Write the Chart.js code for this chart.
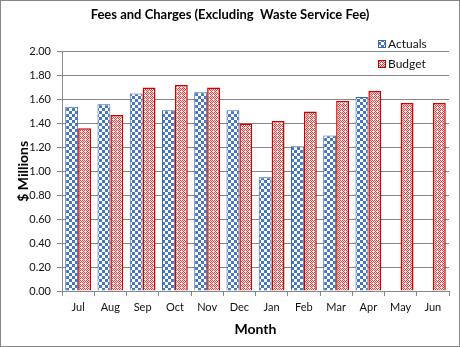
<!DOCTYPE html>
<html>
<head>
<meta charset="utf-8">
<script src="https://cdn.jsdelivr.net/npm/chart.js@4"></script>
<style>
  html, body { margin: 0; padding: 0; background: #fff; }
  #wrap { width: 460px; height: 347px; }
</style>
</head>
<body>
<div id="wrap"><canvas id="feesChart" width="460" height="347"></canvas></div>
<script>
const months = ["Jul", "Aug", "Sep", "Oct", "Nov", "Dec", "Jan", "Feb", "Mar", "Apr", "May", "Jun"];
const actuals = [1.54, 1.56, 1.65, 1.51, 1.66, 1.51, 0.95, 1.21, 1.30, 1.62, null, null];
const budget = [1.36, 1.47, 1.70, 1.72, 1.70, 1.40, 1.42, 1.50, 1.59, 1.67, 1.57, 1.57];
const seriesNames = ["Actuals", "Budget"];

const font = "Lato, 'Liberation Sans', sans-serif";

function checkPattern() {
    const c = document.createElement("canvas");
    c.width = 6; c.height = 6;
    const g = c.getContext("2d");
    g.fillStyle = "#ffffff";
    g.fillRect(0, 0, 6, 6);
    g.fillStyle = "#4677c4";
    g.fillRect(0, 0, 3, 3);
    g.fillRect(3, 3, 3, 3);
    return g.createPattern(c, "repeat");
}

function redPattern() {
    const c = document.createElement("canvas");
    c.width = 4; c.height = 4;
    const g = c.getContext("2d");
    g.fillStyle = "#fbe4e4";
    g.fillRect(0, 0, 4, 4);
    g.fillStyle = "#e04848";
    const px = [[0, 0], [1, 1], [2, 2], [3, 3], [2, 0], [0, 2], [3, 1]];
    px.forEach(p => g.fillRect(p[0], p[1], 1, 1));
    return g.createPattern(c, "repeat");
}

const blueFill = checkPattern();
const redFill = redPattern();

// legend drawn over the top right of the plot, like the original
const legendBox = {
    id: "legendBox",
    afterDraw(chart) {
        const ctx = chart.ctx;
        ctx.save();
        ctx.font = "12px " + font;
        ctx.textBaseline = "middle";
        chart.data.datasets.forEach((ds, i) => {
            const y = 44 + i * 20;
            ctx.fillStyle = "#fff";
            ctx.fillRect(376, y - 7, 60, 14);
            ctx.fillStyle = ds.backgroundColor;
            ctx.fillRect(378, y - 4, 8, 8);
            ctx.strokeStyle = ds.borderColor;
            ctx.lineWidth = 1;
            ctx.strokeRect(378.5, y - 3.5, 7, 7);
            ctx.fillStyle = "#111";
            ctx.fillText(ds.label, 388, y);
        });
        ctx.restore();
    }
};

const frame = {
    id: "frame",
    afterDraw(chart) {
        const ctx = chart.ctx;
        ctx.save();
        ctx.strokeStyle = "#868686";
        ctx.lineWidth = 1;
        ctx.strokeRect(0.5, 0.5, chart.width - 1, chart.height - 1);
        ctx.restore();
    }
};

new Chart(document.getElementById("feesChart"), {
    type: "bar",
    data: {
        labels: months,
        datasets: [
            { label: seriesNames[0], data: actuals, backgroundColor: blueFill,
              borderColor: "#3a66ad", borderWidth: 1 },
            { label: seriesNames[1], data: budget, backgroundColor: redFill,
              borderColor: "#d40000", borderWidth: 1.5 }
        ]
    },
    options: {
        responsive: false,
        animation: false,
        devicePixelRatio: 1,
        layout: { padding: { left: 11, right: 11, top: 0, bottom: 5 } },
        datasets: { bar: { categoryPercentage: 0.8, barPercentage: 1.0 } },
        plugins: {
            legend: { display: false },
            tooltip: { enabled: false },
            title: {
                display: true,
                text: "Fees and Charges (Excluding  Waste Service Fee)",
                color: "#000",
                font: { family: font, size: 13, weight: "bold" },
                padding: { top: 7, bottom: 29 }
            }
        },
        scales: {
            x: {
                grid: { drawOnChartArea: false, drawTicks: true, tickLength: 5, color: "#888" },
                border: { color: "#888" },
                ticks: { color: "#111", font: { family: font, size: 11 }, padding: 5 },
                title: { display: true, text: "Month", color: "#000",
                         font: { family: font, size: 14, weight: "bold" }, padding: { top: 9 } },
                afterFit(scale) { scale.height = 51; }
            },
            y: {
                min: 0, max: 2,
                grid: { color: "#888", tickLength: 5 },
                border: { color: "#888" },
                ticks: { stepSize: 0.2, color: "#111", font: { family: font, size: 11 },
                         padding: 6, callback: v => v.toFixed(2) },
                title: { display: true, text: "$ Millions", color: "#000",
                         font: { family: font, size: 14, weight: "bold" } },
                afterFit(scale) { scale.width = 51; }
            }
        }
    },
    plugins: [legendBox, frame]
});
</script>
</body>
</html>
